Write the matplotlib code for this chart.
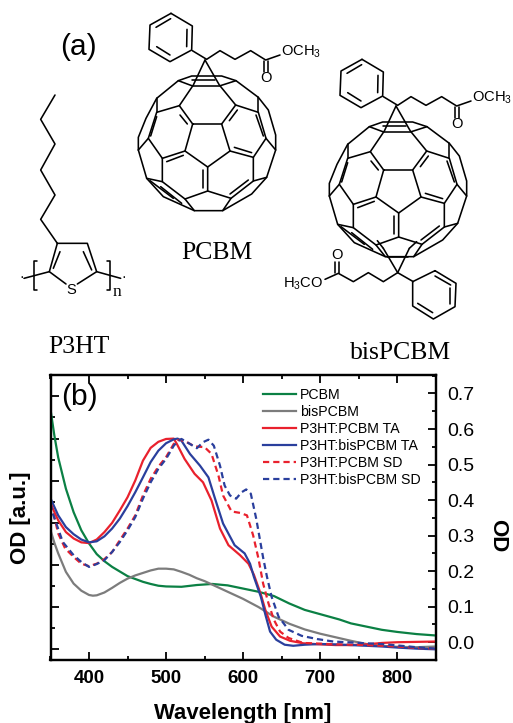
import matplotlib
matplotlib.use('Agg')
import matplotlib.pyplot as plt
from matplotlib.ticker import MultipleLocator

plt.rcParams['font.family'] = ['Liberation Sans', 'DejaVu Sans']
plt.rcParams['mathtext.default'] = 'regular'

# spectra
pcbm_nm = [350, 355, 360, 370, 380, 390, 400, 410, 420, 430, 440, 450, 460, 470, 480, 490, 500, 520, 540, 560,
           580, 600, 620, 640, 660, 680, 700, 715, 725, 740, 760, 780, 800, 825, 850]
pcbm_od = [.655, .582, .52, .432, .366, .315, .278, .248, .228, .212, .199, .186, .178, .170, .164, .159, .157, .156,
           .161, .164, .160, .151, .142, .130, .109, .091, .079, .070, .064, .053, .044, .035, .029, .023, .019]

bis_nm = [350, 355, 360, 370, 380, 390, 400, 405, 410, 420, 430, 440, 450, 460, 470, 480, 490, 500, 510, 520, 530,
          540, 550, 560, 580, 600, 620, 640, 660, 680, 700, 720, 740, 760, 780, 800, 825, 850]
bis_od = [.315, .28, .25, .198, .165, .145, .133, .131, .132, .140, .153, .167, .179, .188, .195, .202, .207, .207,
          .205, .198, .190, .180, .172, .162, .142, .122, .099, .072, .052, .036, .024, .014, .004, -.005, -.010,
          -.013, -.014, -.012]

red_ta_nm = [350, 360, 370, 380, 390, 400, 410, 420, 430, 440, 450, 460, 470, 480, 490, 500, 510, 514, 524, 537,
             548, 559, 570, 581, 596, 607, 614, 623, 629, 637, 648, 661, 678, 700, 720, 740, 760, 780, 800, 825, 850]
red_ta_od = [.39, .343, .31, .292, .281, .279, .289, .310, .336, .371, .408, .455, .511, .547, .564, .572, .573,
             .558, .516, .474, .450, .399, .320, .273, .245, .221, .19, .135, .09, .044, .016, .004, -.003, -.006,
             -.008, -.008, -.006, -.002, .000, .001, .002]

blue_ta_nm = [350, 360, 370, 380, 390, 400, 410, 420, 430, 440, 450, 460, 470, 480, 490, 500, 510, 515, 520, 531,
              544, 555, 563, 574, 589, 602, 609, 614, 623, 629, 635, 643, 654, 665, 680, 700, 720, 740, 760, 780,
              800, 825, 850]
blue_ta_od = [.405, .357, .324, .304, .289, .281, .284, .298, .320, .348, .383, .422, .464, .507, .539, .560, .571,
              .573, .567, .530, .497, .464, .408, .334, .273, .250, .221, .184, .128, .077, .030, .007, -.007,
              -.010, -.007, -.005, -.006, -.008, -.010, -.012, -.015, -.018, -.020]

red_sd_nm = [350, 352, 360, 369, 380, 390, 400, 410, 420, 430, 440, 450, 460, 470, 480, 490, 500, 510, 515, 518,
             527, 537, 550, 559, 568, 574, 585, 596, 605, 613, 620, 626, 633, 640, 648, 659, 678, 700, 720, 740,
             760, 780, 800, 825, 850]
red_sd_od = [.39, .38, .306, .264, .240, .221, .214, .221, .234, .254, .287, .320, .357, .413, .460, .494, .521,
             .558, .568, .570, .563, .551, .549, .530, .469, .413, .368, .364, .357, .301, .235, .165, .109, .063,
             .030, .012, -.002, -.004, -.006, -.007, -.008, -.010, -.012, -.016, -.018]

blue_sd_nm = [350, 353, 366, 380, 390, 400, 410, 420, 430, 440, 450, 460, 470, 480, 490, 500, 510, 515, 520, 531,
              540, 548, 555, 562, 570, 576, 583, 591, 598, 604, 610, 617, 626, 631, 637, 646, 659, 676, 696, 717,
              743, 760, 780, 800, 825, 850]
blue_sd_od = [.39, .362, .282, .245, .226, .212, .22, .231, .254, .282, .315, .352, .404, .450, .488, .516, .553,
              .565, .572, .558, .546, .563, .570, .553, .497, .441, .413, .404, .422, .430, .418, .348, .238, .184,
              .128, .072, .035, .018, .009, .002, -.001, -.003, -.005, -.009, -.014, -.018]

x_ticks = [400, 500, 600, 700, 800]
od_ticks = [0.0, 0.1, 0.2, 0.3, 0.4, 0.5, 0.6, 0.7]

GREEN = "#0B8044"
GRAY = "#7C7C7C"
RED = "#E9212D"
BLUE = "#2A3F9D"

W, H = 513, 723
fig = plt.figure(figsize=(W / 100, H / 100), dpi=100)

# --- panel (a), drawn in 3x pixel coordinates of the page
mol = fig.add_axes([0, 0, 1, 1])
mol.set_xlim(0, W * 3)
mol.set_ylim(H * 3, 0)
mol.axis('off')


def seg(pts, dx=0, dy=0, lw=1.15):
    mol.plot([p[0] + dx for p in pts], [p[1] + dy for p in pts], color="k", lw=lw, solid_capstyle='round',
             solid_joinstyle='round')


# fullerene cage, measured from the PCBM one
CAGE_PATHS = [
    [(188, 222), (275, 222), (300, 303), (233, 351), (165, 303), (188, 222)],
    [(188, 222), (148, 167), (80, 187), (55, 265), (97, 325), (165, 303)],
    [(275, 222), (317, 165), (385, 187), (408, 265), (370, 322), (300, 303)],
    [(233, 351), (233, 423), (165, 447), (97, 395), (97, 325)],
    [(233, 423), (303, 445), (370, 393), (370, 322)],
    [(165, 447), (193, 482), (278, 482), (303, 445)],
    [(25, 300), (25, 262), (48, 205), (80, 145), (145, 92), (185, 78), (275, 78), (318, 92), (385, 142),
     (415, 180), (437, 255), (437, 300), (410, 382), (365, 432), (278, 482)],
    [(25, 300), (50, 385), (100, 440), (193, 482)],
    [(25, 300), (55, 265)], [(437, 300), (408, 265)],
    [(50, 385), (97, 395)], [(410, 382), (370, 393)],
    [(80, 145), (80, 187)], [(385, 142), (385, 187)],
    [(145, 92), (188, 108), (268, 108), (318, 92)],
    [(225, 30), (190, 105), (148, 167)], [(225, 30), (268, 105), (317, 165)],
    # double bonds
    [(150, 195), (172, 222)], [(298, 212), (322, 180)], [(313, 292), (365, 308)], [(110, 335), (160, 316)],
    [(218, 360), (218, 415)], [(80, 200), (62, 258)], [(378, 195), (400, 258)], [(300, 432), (355, 390)],
    [(92, 410), (155, 460)], [(60, 392), (130, 445)], [(185, 90), (255, 90)],
]
PHENYL = [(513, 40), (577, 78), (575, 150), (510, 185), (447, 148), (450, 75), (513, 40)]
PHENYL_INNER = [[(468, 82), (512, 56)], [(561, 88), (560, 140)], [(470, 140), (510, 165)]]
ARM = [(577, 152), (620, 178), (660, 152), (705, 178), (752, 152), (797, 180), (840, 165)]


def pcbm_unit(dx, dy):
    for p in CAGE_PATHS:
        seg([(q[0] + 390, q[1] + 150) for q in p], dx, dy)
    seg(PHENYL, dx, dy)
    for p in PHENYL_INNER:
        seg(p, dx, dy)
    seg(ARM, dx, dy)
    seg([(793, 183), (793, 215)], dx, dy)
    seg([(805, 183), (805, 215)], dx, dy)
    mol.text(798 + dx, 235 + dy, "O", fontsize=10.6, ha="center", va="center")
    mol.text(843 + dx, 156 + dy, "OCH$_3$", fontsize=10.6, ha="left", va="center")


pcbm_unit(0, 0)
pcbm_unit(573, 138)

# second adduct on bisPCBM
seg([(1193, 818), (1150, 745)])
seg([(1193, 818), (1228, 745)])
seg([(1150, 745), (1132, 722)])
seg([(1228, 745), (1250, 725)])
seg([(1160, 770), (1225, 770)])
seg([(1240, 845), (1193, 818), (1150, 845), (1105, 818), (1060, 845), (1015, 820), (975, 838)])
seg([(1006, 820), (1006, 785)])
seg([(1018, 820), (1018, 785)])
seg([(1305, 812), (1368, 850), (1365, 920), (1300, 957), (1238, 918), (1238, 845), (1305, 812)])
seg([(1305, 828), (1352, 855)])
seg([(1350, 865), (1350, 912)])
seg([(1253, 910), (1298, 938)])
mol.text(1012, 765, "O", fontsize=10.6, ha="center", va="center")
mol.text(970, 851, "H$_3$CO", fontsize=10.6, ha="right", va="center")

# P3HT
seg([(165, 285), (122, 358), (165, 432), (122, 510), (165, 585), (122, 658), (172, 730)])
seg([(172, 730), (262, 730), (290, 815), (232, 852)])
seg([(172, 730), (148, 815), (198, 852)])
seg([(180, 755), (160, 805)])
seg([(250, 755), (275, 810)])
seg([(72, 835), (148, 815)])
seg([(290, 815), (362, 835)])
seg([(112, 782), (103, 782), (103, 870), (112, 870)])
seg([(322, 782), (331, 782), (331, 870), (322, 870)])
mol.text(215, 871, "S", fontsize=10.6, ha="center", va="center")
mol.text(66, 832, "·", fontsize=10, ha="center", va="center")
mol.text(370, 832, "·", fontsize=10, ha="center", va="center")
mol.text(350, 877, "n", fontsize=12.5, family="Liberation Serif", ha="center", va="center")

mol.text(235, 140, "(a)", fontsize=21.5, ha="center", va="center")
mol.text(650, 760, "PCBM", fontsize=18.5, family="Liberation Serif", ha="center", va="center")
mol.text(238, 1040, "P3HT", fontsize=18.5, family="Liberation Serif", ha="center", va="center")
mol.text(1203, 1060, "bisPCBM", fontsize=18.5, family="Liberation Serif", ha="center", va="center")

# --- panel (b)
ax = fig.add_axes([50.5 / W, 1 - 660 / H, 385.2 / W, 285 / H])
ax.patch.set_alpha(0)
ax.set_xlim(350, 850)
ax.set_ylim(-0.253, 6.506)
ax.xaxis.set_major_locator(MultipleLocator(100))
ax.xaxis.set_minor_locator(MultipleLocator(50))
ax.set_xticks(x_ticks)
ax.yaxis.set_major_locator(MultipleLocator(1))
ax.yaxis.set_minor_locator(MultipleLocator(0.5))
ax.tick_params(which='major', direction='in', length=6, width=1.3, top=True, labelleft=False, pad=7)
ax.tick_params(which='minor', direction='in', length=3.2, width=1.3, top=True)
for lab in ax.get_xticklabels():
    lab.set_fontsize(13.5)
    lab.set_fontweight("bold")

ax2 = ax.twinx()
ax2.set_ylim(-0.05, 0.752)
ax2.set_yticks(od_ticks)
ax2.yaxis.set_minor_locator(MultipleLocator(0.05))
ax2.tick_params(which='major', direction='in', length=6, width=1.3, labelsize=14, pad=8.5)
ax2.tick_params(which='minor', direction='in', length=3.2, width=1.3)
for a in (ax, ax2):
    for s in a.spines.values():
        s.set_linewidth(1.6)

lw = 1.6
dash = (2.8, 1.8)
ax2.plot(pcbm_nm, pcbm_od, color=GREEN, lw=lw, label="PCBM")
ax2.plot(bis_nm, bis_od, color=GRAY, lw=lw, label="bisPCBM")
ax2.plot(red_ta_nm, red_ta_od, color=RED, lw=lw, label="P3HT:PCBM TA")
ax2.plot(blue_ta_nm, blue_ta_od, color=BLUE, lw=lw, label="P3HT:bisPCBM TA")
ax2.plot(red_sd_nm, red_sd_od, color=RED, lw=lw, dashes=dash, label="P3HT:PCBM SD")
ax2.plot(blue_sd_nm, blue_sd_od, color=BLUE, lw=lw, dashes=dash, label="P3HT:bisPCBM SD")

ax2.legend(loc="upper left", bbox_to_anchor=(0.545, 0.965), frameon=False, fontsize=10.2, handlelength=2.3,
           handletextpad=0.3, labelspacing=0.21, borderaxespad=0, borderpad=0.2)

fig.text(79 / W, 1 - 397 / H, "(b)", fontsize=21.5, ha="center", va="center")
fig.text(243 / W, 1 - 713 / H, "Wavelength [nm]", fontsize=15.9, fontweight="bold", ha="center", va="center")
fig.text(21 / W, 1 - 518 / H, "OD [a.u.]", fontsize=16, fontweight="bold", rotation=90, ha="center", va="center")
fig.text(498 / W, 1 - 536 / H, "OD", fontsize=16, fontweight="bold", rotation=270, ha="center", va="center")

fig.savefig("out.png", dpi=100)
plt.close()
